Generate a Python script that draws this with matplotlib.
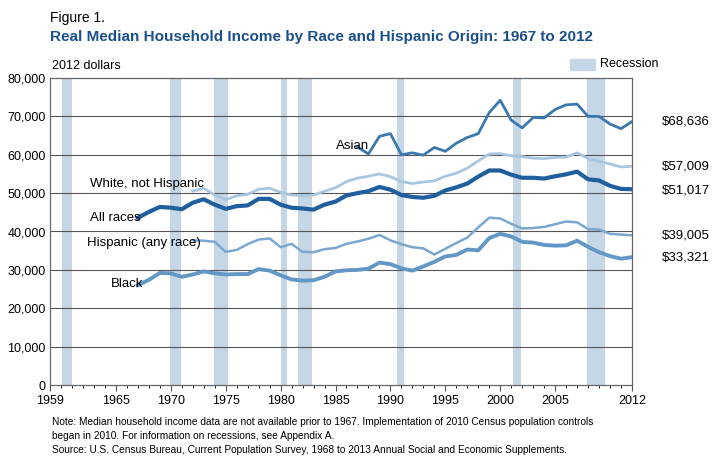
import numpy as np
import matplotlib.pyplot as plt

plt.rcParams['font.family'] = ['Liberation Sans', 'DejaVu Sans']

years_all = list(range(1967, 2013))
all_races = [43558, 45100, 46400, 46200, 45800, 47500, 48400, 47000, 45900, 46600,
             46800, 48500, 48500, 46985, 46200, 46000, 45700, 47000, 47800, 49400,
             50000, 50500, 51600, 50900, 49500, 49000, 48800, 49300, 50700, 51500,
             52500, 54300, 55900, 55900, 54800, 54000, 54000, 53800, 54400, 54900,
             55600, 53600, 53300, 51900, 51100, 51017]
black = [26000, 27400, 29200, 29100, 28200, 28800, 29600, 29100, 28800, 28900,
         28900, 30200, 29800, 28600, 27500, 27200, 27300, 28200, 29600, 29900,
         30000, 30300, 31900, 31500, 30400, 29800, 30900, 32100, 33500, 33900,
         35300, 35100, 38300, 39400, 38700, 37300, 37100, 36500, 36300, 36400,
         37600, 36000, 34600, 33600, 32900, 33321]
years_72 = list(range(1972, 2013))
white_nh = [50500, 51300, 49500, 48300, 49300, 49700, 51000, 51300, 50200, 49500,
            49300, 49500, 50500, 51400, 53000, 53900, 54400, 55000, 54300, 53000,
            52500, 52900, 53200, 54400, 55200, 56500, 58400, 60200, 60300, 59700,
            59500, 59100, 59000, 59300, 59400, 60500, 59000, 58300, 57600, 56800, 57009]
hispanic = [37700, 37600, 37300, 34700, 35200, 36700, 37900, 38200, 35900, 36800,
            34700, 34600, 35400, 35700, 36800, 37400, 38100, 39100, 37700, 36700,
            35900, 35600, 34000, 35500, 37000, 38400, 41100, 43600, 43400, 42000,
            40800, 40900, 41200, 41900, 42600, 42400, 40600, 40500, 39400, 39200, 39005]
years_asian = list(range(1987, 2013))
asian = [62000, 60200, 64800, 65500, 60000, 60500, 59900, 61900, 60900, 63000,
         64500, 65500, 71000, 74200, 69000, 67000, 69700, 69600, 71800, 73000,
         73200, 70000, 70000, 68000, 66800, 68636]

recessions = [(1960.1, 1961.0), (1969.9, 1970.9), (1973.9, 1975.2), (1980.0, 1980.6),
              (1981.6, 1982.9), (1990.6, 1991.2), (2001.2, 2001.9), (2007.9, 2009.5)]

end_labels = ['$68,636', '$57,009', '$51,017', '$39,005', '$33,321']

fig = plt.figure(figsize=(7.2, 4.61), dpi=100)
ax = fig.add_axes([50/720, 76/461, 582/720, 307/461])

rec_color = '#c5d6e6'
for a, b in recessions:
    ax.axvspan(a, b, color=rec_color, lw=0, zorder=1)

for v in range(10000, 80000, 10000):
    ax.axhline(v, color='#555555', lw=0.8, zorder=2)

ax.plot(years_72, white_nh, color='#a9c6e0', lw=2, zorder=3)
ax.plot(years_72, hispanic, color='#7ba7cf', lw=1.8, zorder=3)
ax.plot(years_all, black, color='#6297c6', lw=2.8, zorder=3)
ax.plot(years_asian, asian, color='#3b78ae', lw=2, zorder=4)
ax.plot(years_all, all_races, color='#1f5f9e', lw=3, zorder=4)

ax.set_xlim(1959, 2012)
ax.set_ylim(0, 80000)
ax.set_xticks([1959, 1965, 1970, 1975, 1980, 1985, 1990, 1995, 2000, 2005, 2012])
ax.set_xticks(range(1959, 2013), minor=True)
ax.set_yticks(range(0, 80001, 10000))
ax.set_yticklabels(['0'] + [f'{v:,}' for v in range(10000, 80001, 10000)])
ax.tick_params(labelsize=9, length=4, color='#555555')
ax.tick_params(axis='x', which='minor', length=2)
ax.tick_params(axis='y', length=0, pad=3)
for s in ax.spines.values():
    s.set_color('#666666')
    s.set_linewidth(0.9)

ax.text(1962.6, 52300, 'White, not Hispanic', fontsize=9.5, ha='left', va='center', zorder=5)
ax.text(1962.6, 43500, 'All races', fontsize=9.5, ha='left', va='center', zorder=5)
ax.text(1962.4, 37000, 'Hispanic (any race)', fontsize=9.5, ha='left', va='center', zorder=5)
ax.text(1964.5, 26300, 'Black', fontsize=9.5, ha='left', va='center', zorder=5)
ax.text(1985.0, 62200, 'Asian', fontsize=9.5, ha='left', va='center', zorder=5)

for val, lab in zip([68636, 57009, 50800, 39005, 33321], end_labels):
    ax.text(2014.7, val, lab, fontsize=9.5, ha='left', va='center')

fig.text(52/720, 1 - 66/461, '2012 dollars', fontsize=9, va='center')
fig.patches.append(plt.Rectangle((570/720, 1 - 70/461), 25/720, 11/461,
                                 transform=fig.transFigure, color=rec_color))
fig.text(600/720, 1 - 64/461, 'Recession', fontsize=9, va='center')

fig.text(50/720, 1 - 18/461, 'Figure 1.', fontsize=10, va='center')
fig.text(50/720, 1 - 37/461, 'Real Median Household Income by Race and Hispanic Origin: 1967 to 2012',
         fontsize=11, fontweight='bold', color='#1b4f8a', va='center')

fig.text(52/720, 1 - 429/461,
         'Note: Median household income data are not available prior to 1967. Implementation of 2010 Census population controls\n'
         'began in 2010. For information on recessions, see Appendix A.', fontsize=7.3, va='center', linespacing=1.4)
fig.text(52/720, 1 - 450/461,
         'Source: U.S. Census Bureau, Current Population Survey, 1968 to 2013 Annual Social and Economic Supplements.',
         fontsize=7.3, va='center')

fig.savefig('out.png', dpi=100)
